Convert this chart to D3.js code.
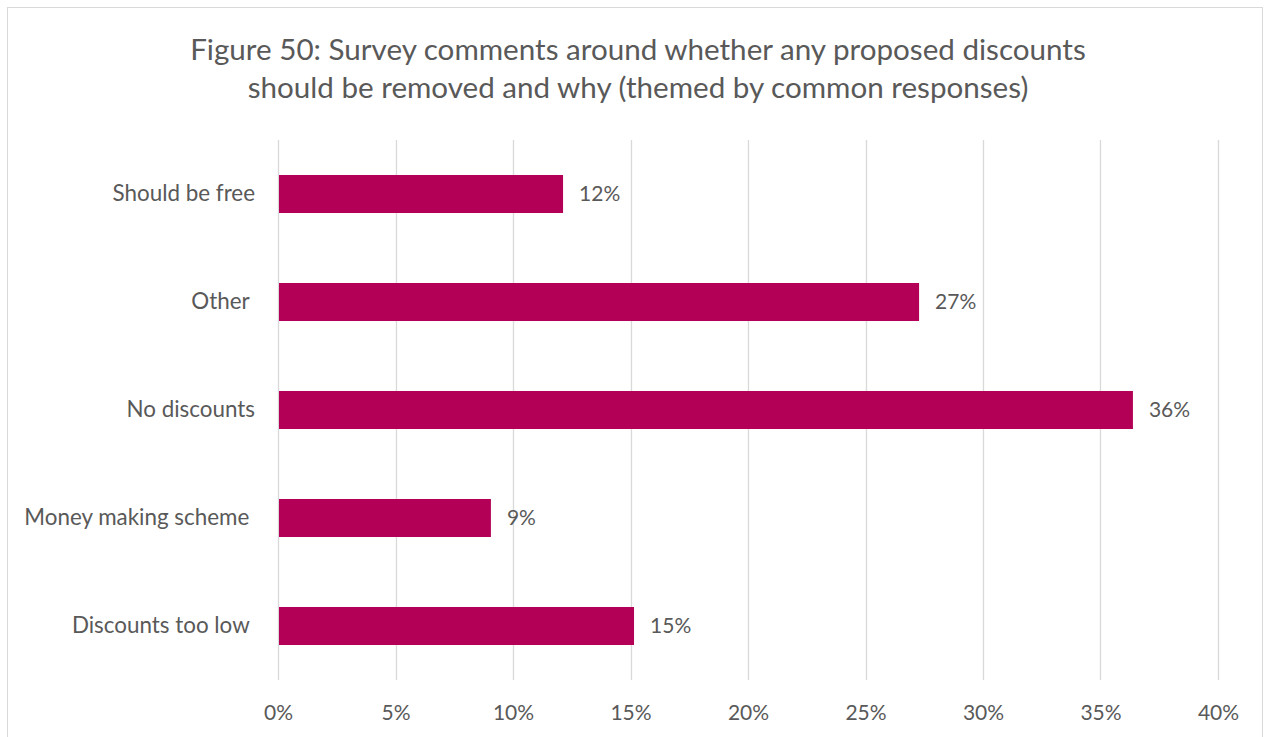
<!DOCTYPE html>
<html>
<head>
<meta charset="utf-8">
<script src="https://cdn.jsdelivr.net/npm/d3@7"></script>
<style>
  html, body { margin: 0; padding: 0; background: #ffffff; }
  svg { display: block; }
  text { font-family: Lato, "Open Sans", sans-serif; fill: #595959; }
</style>
</head>
<body>
<svg id="chart" width="1269" height="737"></svg>
<script>
// Survey themes, top to bottom
const categories = ["Should be free", "Other ", "No discounts", "Money making scheme ", "Discounts too low "];
// Share of comments per theme
const shares = [0.1213, 0.2728, 0.3638, 0.0906, 0.1515];
// Horizontal axis ticks
const tickValues = [0, 0.05, 0.10, 0.15, 0.20, 0.25, 0.30, 0.35, 0.40];
const titleLines = [
  "Figure 50: Survey comments around whether any proposed discounts",
  "should be removed and why (themed by common responses)"
];

const W = 1269, H = 737;
const margin = { top: 140, right: 51, bottom: 57, left: 278 };
const svg = d3.select("#chart");

// Chart frame
svg.append("rect")
  .attr("x", 7.5).attr("y", 7.5)
  .attr("width", 1255).attr("height", 740)
  .attr("fill", "#ffffff")
  .attr("stroke", "#d9d9d9").attr("stroke-width", 1);

const x = d3.scaleLinear().domain([0, 0.40]).range([margin.left, W - margin.right]);
const y = d3.scaleBand().domain(categories).range([margin.top, H - margin.bottom]).paddingInner(0.648).paddingOuter(0.324);

// Title
svg.append("g").selectAll("text").data(titleLines).join("text")
  .attr("x", 638).attr("y", (d, i) => 60 + i * 38)
  .attr("text-anchor", "middle")
  .attr("font-size", 29.6)
  .text(d => d);

// Vertical gridlines
svg.append("g").selectAll("line").data(tickValues).join("line")
  .attr("x1", d => Math.round(x(d)) + 0.5).attr("x2", d => Math.round(x(d)) + 0.5)
  .attr("y1", margin.top).attr("y2", H - margin.bottom)
  .attr("stroke", "#d9d9d9").attr("stroke-width", 1.3);

// Bars
svg.append("g").selectAll("rect").data(categories).join("rect")
  .attr("x", x(0) + 1)
  .attr("y", d => y(d))
  .attr("width", (d, i) => x(shares[i]) - x(0) - 1)
  .attr("height", y.bandwidth())
  .attr("fill", "#b30056");

// Value labels
const pct = d3.format(".0%");
svg.append("g").selectAll("text").data(categories).join("text")
  .attr("x", (d, i) => x(shares[i]) + 16)
  .attr("y", d => y(d) + y.bandwidth() / 2)
  .attr("dy", "0.35em")
  .attr("font-size", 21)
  .text((d, i) => pct(shares[i]));

// Category axis
const yAxis = svg.append("g")
  .attr("transform", `translate(${margin.left - 23},0)`)
  .call(d3.axisLeft(y).tickSize(0).tickPadding(0));
yAxis.select(".domain").remove();
yAxis.attr("font-family", null);
yAxis.selectAll("text")
  .attr("font-size", 22.4)
  .style("white-space", "pre")
  .attr("fill", "#595959");

// Value axis
const xAxis = svg.append("g")
  .attr("transform", `translate(0,${H - margin.bottom})`)
  .call(d3.axisBottom(x).tickValues(tickValues).tickFormat(d3.format(".0%")).tickSize(0).tickPadding(25));
xAxis.select(".domain").remove();
xAxis.attr("font-family", null);
xAxis.selectAll("text").attr("font-size", 21).attr("fill", "#595959");
</script>
</body>
</html>
